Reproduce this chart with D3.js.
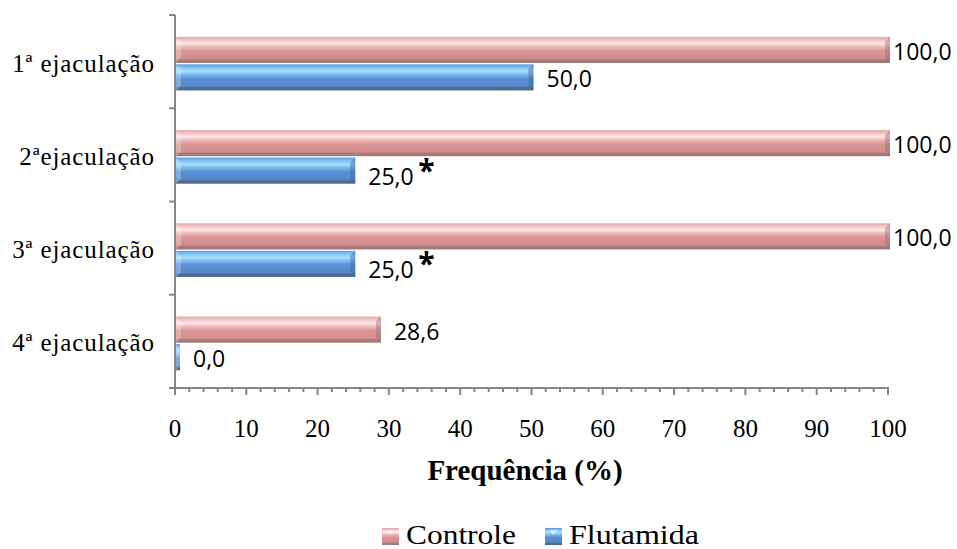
<!DOCTYPE html>
<html>
<head>
<meta charset="utf-8">
<script src="https://cdn.jsdelivr.net/npm/d3@7"></script>
<style>
  body { margin: 0; background: #fff; }
  svg { display: block; }
</style>
</head>
<body>
<svg id="chart" width="957" height="549"></svg>
<script>
// data
var categories = ["1ª ejaculação", "2ªejaculação", "3ª ejaculação", "4ª ejaculação"];
var series = ["Controle", "Flutamida"];
var controle = [100.0, 100.0, 100.0, 28.6];
var flutamida = [50.0, 25.0, 25.0, 0.0];
var flutamidaStars = ["", "*", "*", ""]; // significance marks
var xTicks = [0, 10, 20, 30, 40, 50, 60, 70, 80, 90, 100];

var svg = d3.select("#chart"),
    axisColor = "#868686",
    serif = "'Liberation Serif', 'Times New Roman', serif",
    sans = "'Open Sans', 'Noto Sans', sans-serif",
    margin = {left: 175, right: 69, top: 15, bottom: 161},
    width = +svg.attr("width"),
    height = +svg.attr("height"),
    plotW = width - margin.left - margin.right,
    plotH = height - margin.top - margin.bottom;

var x = d3.scaleLinear().domain([0, 100]).range([margin.left, margin.left + plotW]);
var y0 = d3.scaleBand().domain(categories).range([margin.top, margin.top + plotH]).padding(0);
var y1 = d3.scaleBand().domain(series).range([0, y0.bandwidth()]).paddingInner(0.05).paddingOuter(0.72);

// gradients for the bevelled bars
var defs = svg.append("defs");
function makeGrad(id, stops) {
    var g = defs.append("linearGradient").attr("id", id)
        .attr("x1", 0).attr("y1", 0).attr("x2", 0).attr("y2", 1);
    stops.forEach(function (s) {
        g.append("stop").attr("offset", s[0]).attr("stop-color", s[1]);
    });
}
makeGrad("gPink", [[0, "#e3a7a6"], [0.12, "#f2c6c5"], [0.26, "#fdeaea"], [0.38, "#eeb9b8"],
    [0.55, "#d99694"], [0.84, "#d08d8b"], [0.88, "#a97d7c"], [1, "#9c7574"]]);
makeGrad("gBlue", [[0, "#5b9de0"], [0.12, "#7fc3f5"], [0.26, "#a8dffc"], [0.38, "#7dbcf0"],
    [0.55, "#5a90d2"], [0.84, "#5588c9"], [0.88, "#4e6f99"], [1, "#4a6890"]]);
var fills = {Controle: "url(#gPink)", Flutamida: "url(#gBlue)"};
var edge = {Controle: "#a06e6d", Flutamida: "#3f6594"};

var rows = categories.map(function (c, i) {
    return {cat: c, values: [
        {s: "Controle", v: controle[i], star: ""},
        {s: "Flutamida", v: flutamida[i], star: flutamidaStars[i]}
    ]};
});

// bars
var groups = svg.selectAll(".grp").data(rows).enter().append("g")
    .attr("class", "grp")
    .attr("transform", function (d) { return "translate(0," + (y0(d.cat) + 2) + ")"; });

var bars = groups.selectAll(".bar").data(function (d) { return d.values; }).enter().append("g");

function barEnd(d) { return Math.max(x(d.v) + 2, x(0) + 5); }

bars.append("rect")
    .attr("x", x(0) + 1)
    .attr("y", function (d) { return y1(d.s); })
    .attr("width", function (d) { return barEnd(d) - x(0) - 1; })
    .attr("height", y1.bandwidth())
    .attr("fill", function (d) { return fills[d.s]; });

// right-end bevel
bars.filter(function (d) { return d.v > 2; }).append("path")
    .attr("d", function (d) {
        var x1 = barEnd(d), t = y1(d.s), b = t + y1.bandwidth();
        return "M" + (x1 - 5) + "," + (t + 5) + "L" + x1 + "," + t + "L" + x1 + "," + b +
            "L" + (x1 - 5) + "," + (b - 5) + "Z";
    })
    .attr("fill", function (d) { return edge[d.s]; })
    .attr("opacity", 0.45);

// left-end bevel
bars.append("path")
    .attr("d", function (d) {
        var x0 = x(0) + 1, t = y1(d.s), b = t + y1.bandwidth();
        return "M" + x0 + "," + t + "L" + (x0 + 5) + "," + (t + 5) + "L" + (x0 + 5) + "," + (b - 5) +
            "L" + x0 + "," + b + "Z";
    })
    .attr("fill", "#ffffff")
    .attr("opacity", 0.25);

// value labels
function labelX(d) { return Math.min(barEnd(d) + 13, 893); }

bars.append("text")
    .attr("x", labelX)
    .attr("y", function (d) { return y1(d.s) + y1.bandwidth() / 2 + (d.star ? 14 : 10); })
    .attr("font-family", sans)
    .attr("font-size", 23)
    .attr("fill", "#000")
    .text(function (d) { return d.v.toFixed(1).replace(".", ","); });

bars.filter(function (d) { return d.star; }).append("text")
    .attr("x", function (d) { return labelX(d) + 50; })
    .attr("y", function (d) { return y1(d.s) + y1.bandwidth() / 2 + 10; })
    .attr("font-family", sans)
    .attr("font-size", 30)
    .attr("font-weight", "bold")
    .attr("fill", "#000")
    .text(function (d) { return d.star; });

// y axis
var yAxis = svg.append("g").attr("stroke", axisColor).attr("stroke-width", 2);
yAxis.append("line")
    .attr("x1", x(0)).attr("x2", x(0))
    .attr("y1", margin.top).attr("y2", margin.top + plotH);
var yTickPos = categories.map(function (c) { return y0(c); }).concat([margin.top + plotH]);
yAxis.selectAll(".yt").data(yTickPos).enter().append("line")
    .attr("x1", x(0) - 6).attr("x2", x(0))
    .attr("y1", function (d) { return d; }).attr("y2", function (d) { return d; });

svg.selectAll(".ylab").data(categories).enter().append("text")
    .attr("x", 155)
    .attr("y", function (d) { return y0(d) + y0.bandwidth() / 2 + 10; })
    .attr("text-anchor", "end")
    .attr("font-family", serif)
    .attr("font-size", 25)
    .attr("letter-spacing", 0.9)
    .attr("fill", "#000")
    .text(function (d) { return d; });

// x axis
var xAxisY = margin.top + plotH;
var xAxis = svg.append("g").attr("stroke", axisColor).attr("stroke-width", 2);
xAxis.append("line")
    .attr("x1", x(0) - 1).attr("x2", x(100) + 1)
    .attr("y1", xAxisY).attr("y2", xAxisY);
xAxis.selectAll(".minor").data(d3.range(0, 101, 2)).enter().append("line")
    .attr("x1", function (d) { return x(d); }).attr("x2", function (d) { return x(d); })
    .attr("y1", xAxisY).attr("y2", function (d) { return xAxisY + (d % 10 === 0 ? 7 : 4); });

svg.selectAll(".xlab").data(xTicks).enter().append("text")
    .attr("x", function (d) { return x(d); })
    .attr("y", 437)
    .attr("text-anchor", "middle")
    .attr("font-family", serif)
    .attr("font-size", 25)
    .attr("fill", "#000")
    .text(function (d) { return d; });

svg.append("text")
    .attr("x", 525)
    .attr("y", 480)
    .attr("text-anchor", "middle")
    .attr("font-family", serif)
    .attr("font-size", 29)
    .attr("font-weight", "bold")
    .attr("fill", "#000")
    .text("Frequência (%)");

// legend
var legendX = [382, 545];
var legendLen = [110, 130];
var legend = svg.selectAll(".leg").data(series).enter().append("g")
    .attr("transform", function (d, i) { return "translate(" + legendX[i] + ",528)"; });
legend.append("rect")
    .attr("width", 17).attr("height", 17)
    .attr("fill", function (d) { return fills[d]; });
legend.append("path")
    .attr("d", "M4,2L13,2L8.5,7Z")
    .attr("fill", "#fff").attr("opacity", 0.5);
legend.append("text")
    .attr("x", 24)
    .attr("y", 16)
    .attr("font-family", serif)
    .attr("font-size", 28)
    .attr("fill", "#000")
    .attr("textLength", function (d, i) { return legendLen[i]; })
    .attr("lengthAdjust", "spacingAndGlyphs")
    .text(function (d) { return d; });
</script>
</body>
</html>
